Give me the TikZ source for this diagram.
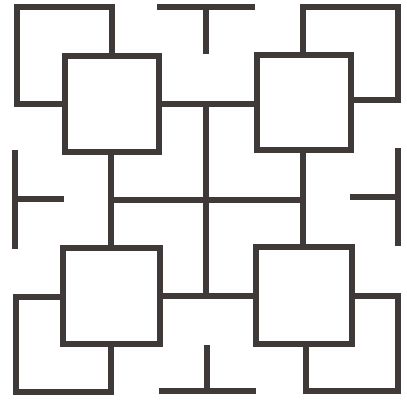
\documentclass[tikz,border=0pt]{standalone}
\definecolor{ink}{HTML}{3F3A38}
\begin{document}
\begin{tikzpicture}[x=1pt,y=-1pt,
  wall/.style={draw=ink,line width=5.4pt,line join=miter,line cap=rect}]
\useasboundingbox[fill=white] (0,0) rectangle (407,399);
% corner L-shapes
\draw[wall] (65,104) -- (17,104) -- (17,7) -- (112,7) -- (112,56);
\draw[wall] (303,55) -- (303,7) -- (398,7) -- (398,100) -- (351,100);
\draw[wall] (63,297) -- (16,297) -- (16,392) -- (111,392) -- (111,344);
\draw[wall] (352,296) -- (398,296) -- (398,391) -- (306,391) -- (306,344);
% boxes
\draw[wall] (65,56) rectangle (159,152);
\draw[wall] (257,55) rectangle (351,150);
\draw[wall] (63,248) rectangle (160,344);
\draw[wall] (256,247) rectangle (352,344);
% inner connectors
\draw[wall] (159,104) -- (257,104);
\draw[wall] (206,104) -- (206,296);
\draw[wall] (160,296) -- (256,296);
\draw[wall] (111,152) -- (111,248);
\draw[wall] (303,150) -- (303,247);
\draw[wall] (111,200) -- (303,200);
% T shapes
\draw[wall] (160,7) -- (252,7);
\draw[wall] (206,7) -- (206,51);
\draw[wall] (162,391) -- (253,391);
\draw[wall] (207,348) -- (207,391);
\draw[wall] (15,153) -- (15,246);
\draw[wall] (15,199) -- (61,199);
\draw[wall] (398,151) -- (398,243);
\draw[wall] (353,197) -- (398,197);
\end{tikzpicture}
\end{document}
